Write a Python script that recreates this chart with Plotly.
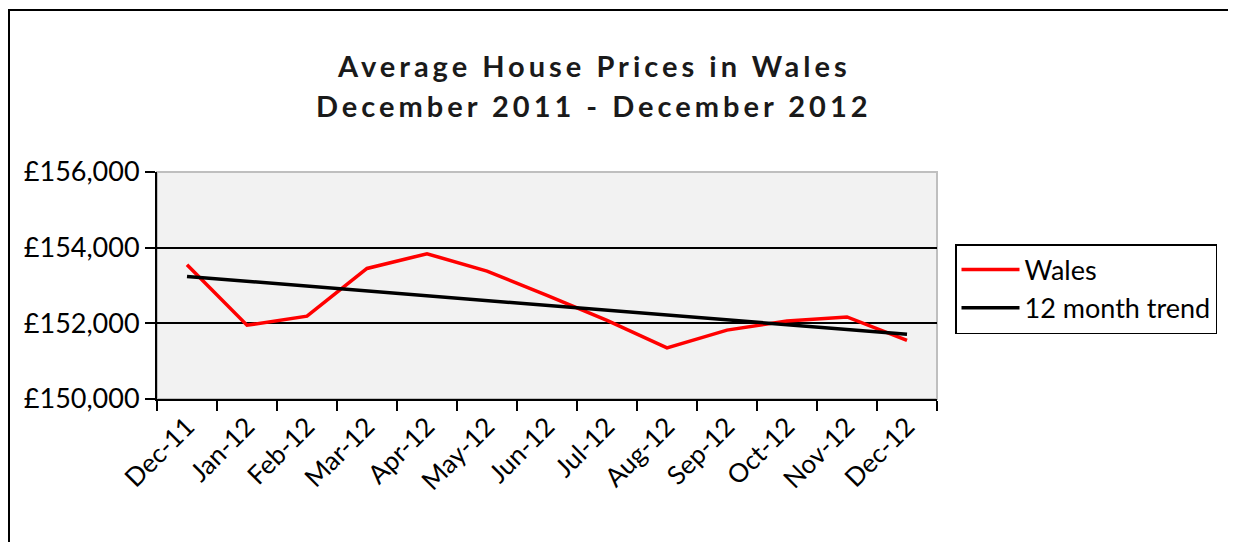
import plotly.graph_objects as go

months = ["Dec-11", "Jan-12", "Feb-12", "Mar-12", "Apr-12", "May-12", "Jun-12",
          "Jul-12", "Aug-12", "Sep-12", "Oct-12", "Nov-12", "Dec-12"]
wales = [153550, 151950, 152190, 153450, 153840, 153380, 152740,
         152080, 151350, 151820, 152060, 152170, 151550]
trend_months = ["Dec-11", "Dec-12"]
trend_values = [153240, 151710]

title_line1 = "Average House Prices in Wales"
title_line2 = "December 2011 - December 2012"
y_ticks = [150000, 152000, 154000, 156000]
y_ticktext = ["£" + f"{v:,}" for v in y_ticks]

FONT = "Lato"
# page body has an 8px margin; figure is sized/positioned to compensate
OFF = 8
W, H = 1236 - OFF, 542 - OFF
PL, PT, PW, PH = 157 - OFF, 172 - OFF, 780, 227

fig = go.Figure()
fig.add_trace(go.Scatter(x=months, y=wales, mode="lines", name="Wales",
                         line=dict(color="#ff0000", width=3.5), legendgroup="a"))
fig.add_trace(go.Scatter(x=trend_months, y=trend_values, mode="lines", name="12 month trend",
                         line=dict(color="#000000", width=3.5), legendgroup="b"))

# plot area border (top/right light grey)
fig.add_shape(type="rect", xref="paper", yref="paper", x0=0, x1=1, y0=0, y1=1,
              line=dict(color="#bfbfbf", width=2), layer="below")
# outer chart frame
fig.add_shape(type="rect", xref="paper", yref="paper",
              x0=(9 - 157) / PW, x1=(1245 - 157) / PW,
              y0=(399 - 550) / PH, y1=(399 - 10) / PH,
              line=dict(color="#000000", width=2), layer="below")

sp = "letter-spacing:4px"
fig.add_annotation(xref="paper", yref="paper", x=(594 - 157) / PW, y=(399 - 66) / PH,
                   text=f'<span style="{sp}"><b>{title_line1}</b></span>', showarrow=False,
                   font=dict(family=FONT, size=29, color="#1a1a1a"), xanchor="center", yanchor="middle")
fig.add_annotation(xref="paper", yref="paper", x=(594 - 157) / PW, y=(399 - 106) / PH,
                   text=f'<span style="{sp}"><b>{title_line2}</b></span>', showarrow=False,
                   font=dict(family=FONT, size=29, color="#1a1a1a"), xanchor="center", yanchor="middle")

fig.update_layout(
    width=W, height=H,
    margin=dict(l=PL, r=W - PL - PW, t=PT, b=H - PT - PH),
    paper_bgcolor="white", plot_bgcolor="#f2f2f2",
    font=dict(family=FONT, size=27, color="black"),
    showlegend=True,
    legend=dict(x=(955 - 157) / PW, y=(399 - 244) / PH, xanchor="left", yanchor="top",
                bordercolor="black", borderwidth=1.5, bgcolor="white",
                font=dict(family=FONT, size=27, color="black"),
                tracegroupgap=0, itemwidth=58),
    xaxis=dict(type="category", categoryorder="array", categoryarray=months,
               tickson="boundaries", ticks="outside", ticklen=10, tickwidth=1.5, tickcolor="black",
               showline=True, linecolor="black", linewidth=2, showgrid=False,
               tickangle=-45, tickfont=dict(family=FONT, size=26, color="black"),
               range=[-0.5, 12.5]),
    yaxis=dict(range=[150000, 156000], tickmode="array", tickvals=y_ticks, ticktext=y_ticktext,
               ticks="outside", ticklen=10, tickwidth=1.5, tickcolor="black",
               showline=True, linecolor="black", linewidth=2,
               showgrid=True, gridcolor="black", gridwidth=1.5, zeroline=False,
               tickfont=dict(family=FONT, size=27, color="black")),
)

fig.write_html("out.html")
